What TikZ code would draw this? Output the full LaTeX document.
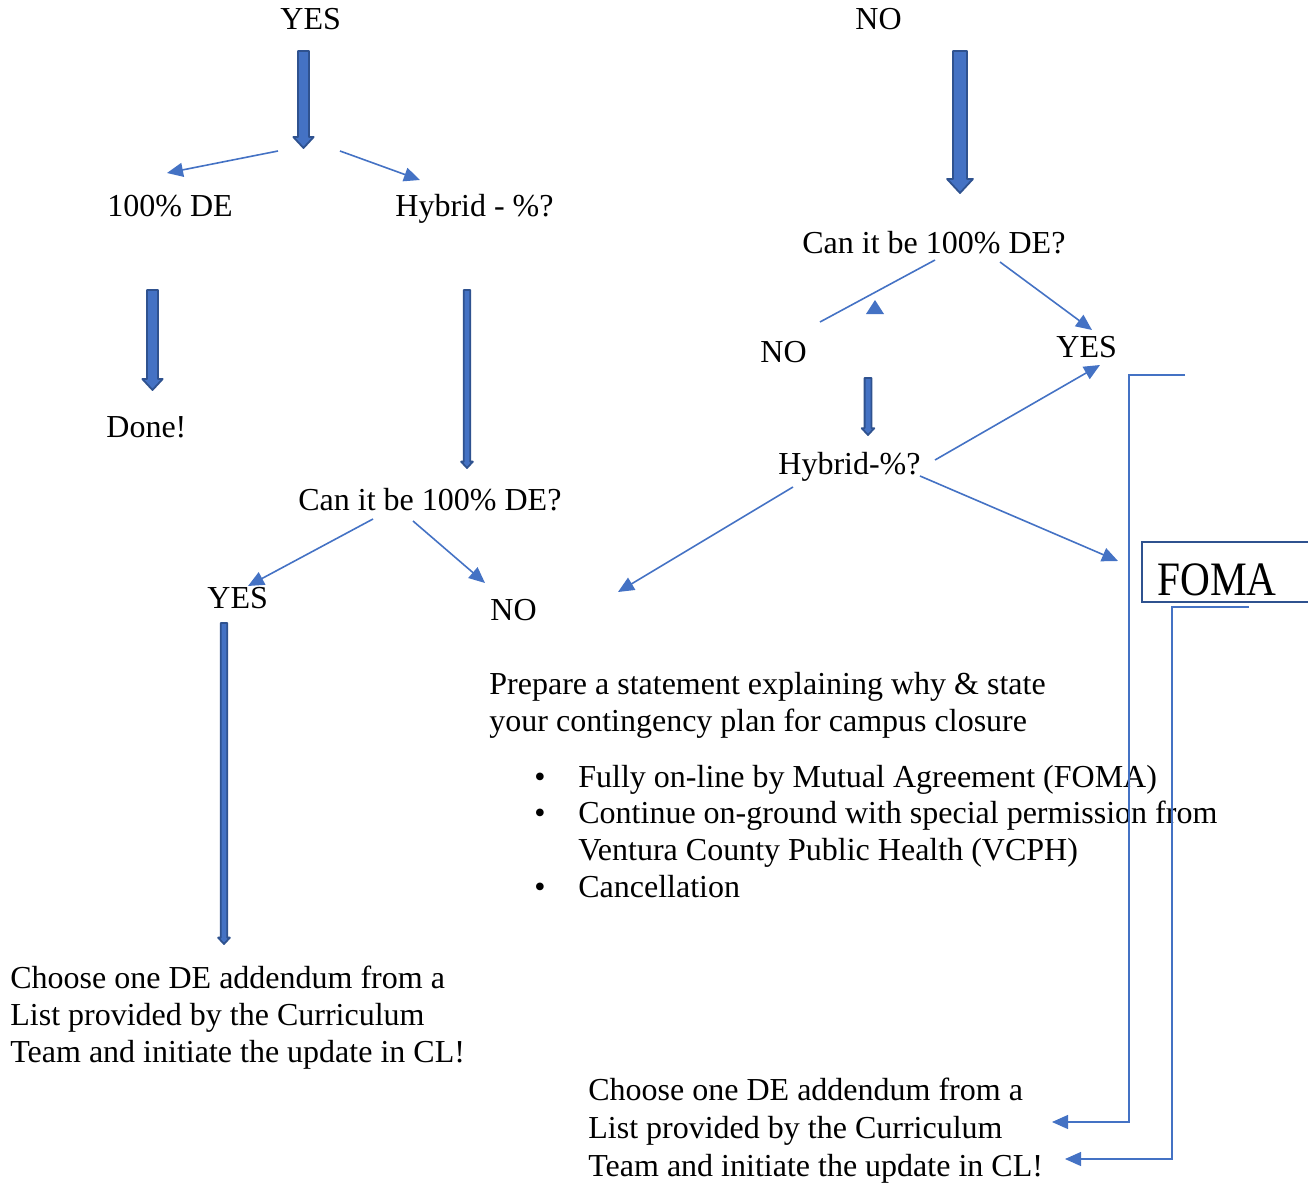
\documentclass[tikz,border=0pt]{standalone}
\usepackage{fontspec}
\setmainfont{Liberation Serif}
\usetikzlibrary{arrows.meta}
\definecolor{shapeblue}{HTML}{4472C4}
\definecolor{shapeedge}{HTML}{2F528F}
% x, top, tip, half width of the shaft
\newcommand{\blockarrow}[4]{%
  \filldraw[fill=shapeblue, draw=shapeedge, line width=0.9pt, line join=round]
    (#1-#4, #2) -- (#1+#4, #2) -- (#1+#4, #3-2*#4) -- (#1+1.85*#4, #3-2*#4)
    -- (#1, #3) -- (#1-1.85*#4, #3-2*#4) -- (#1-#4, #3-2*#4) -- cycle;}
\tikzset{
  txt/.style={anchor=base west, inner sep=0pt, font=\fontsize{16}{18.5}\selectfont},
  link/.style={draw=shapeblue, line width=0.8pt, -{Triangle[length=8pt, width=7pt]}},
  elbow/.style={draw=shapeblue, line width=0.6pt, -{Triangle[length=8pt, width=7pt]}}
}
\begin{document}
\begin{tikzpicture}[x=0.5pt, y=-0.5pt]
        \useasboundingbox (0, 0) rectangle (1308, 1183);
        % text
        \node[txt] (yesTop) at (280, 30) {YES};
        \node[txt] (noTop) at (855, 30) {NO};
        \node[txt] (deL) at (107, 216) {100\% DE};
        \node[txt] (hybL) at (395, 216) {Hybrid - \%?};
        \node[txt] (done) at (106, 437) {Done!};
        \node[txt] (canL) at (298, 510) {Can it be 100\% DE?};
        \node[txt] (yesL) at (207, 608) {YES};
        \node[txt] (noL) at (490, 620) {NO};
        \node[txt] (canR) at (802, 253) {Can it be 100\% DE?};
        \node[txt] (noR) at (760, 362) {NO};
        \node[txt] (yesR) at (1056, 357) {YES};
        \node[txt] (hybR) at (778, 474) {Hybrid-\%?};
        \node[txt, font=\fontsize{24}{28}\selectfont] (foma) at (1157, 595) {\scalebox{0.86}[1]{FOMA}};
        \node[txt] (prep) at (489, 694) {\begin{tabular}[t]{@{}l@{}}Prepare a statement explaining why \& state\\your contingency plan for campus closure\end{tabular}};
        \node[txt, font=\fontsize{16}{18.35}\selectfont] (opts) at (534, 787) {\begin{tabular}[t]{@{}p{22pt}@{}l@{}}
          \textbullet & Fully on-line by Mutual Agreement (FOMA)\\
          \textbullet & Continue on-ground with special permission from\\
          & Ventura County Public Health (VCPH)\\
          \textbullet & Cancellation\end{tabular}};
        \node[txt] (chooseL) at (10, 988) {\begin{tabular}[t]{@{}l@{}}Choose one DE addendum from a\\List provided by the Curriculum\\Team and initiate the update in CL!\end{tabular}};
        \node[txt, font=\fontsize{16}{19}\selectfont] (chooseR) at (588, 1100) {\begin{tabular}[t]{@{}l@{}}Choose one DE addendum from a\\List provided by the Curriculum\\Team and initiate the update in CL!\end{tabular}};
        % box
        \draw[shapeedge, line width=1.1pt] (1142, 542) rectangle (1340, 602);
        % block arrows
        \blockarrow{303.5}{51}{148}{5.5}
        \blockarrow{960}{51}{193}{7}
        \blockarrow{152.5}{290}{390}{5.5}
        \blockarrow{467}{290}{468}{3.2}
        \blockarrow{868}{378}{435}{3.4}
        \blockarrow{224}{623}{944}{3.2}
        % points
        \coordinate (a1) at (278, 151); \coordinate (a2) at (167, 173);
        \coordinate (b1) at (340, 151); \coordinate (b2) at (420, 180);
        \coordinate (c1) at (373, 519); \coordinate (c2) at (248, 586);
        \coordinate (d1) at (413, 521); \coordinate (d2) at (485, 583);
        \coordinate (e1) at (935, 260); \coordinate (e2) at (820, 322);
        \coordinate (f1) at (1000, 262); \coordinate (f2) at (1092, 330);
        \coordinate (g1) at (935, 460); \coordinate (g2) at (1100, 365);
        \coordinate (h1) at (920, 476); \coordinate (h2) at (1118, 561);
        \coordinate (k1) at (793, 487); \coordinate (k2) at (618, 592);
        \coordinate (m1) at (1185, 375); \coordinate (m2) at (1052, 1122);
        \coordinate (n1) at (1249, 607); \coordinate (n2) at (1065, 1159);
        % lines
        \draw[link] (a1) -- (a2);
        \draw[link] (b1) -- (b2);
        \draw[link] (c1) -- (c2);
        \draw[link] (d1) -- (d2);
        \draw[shapeblue, line width=0.8pt] (e1) -- (e2);
        \fill[shapeblue] (866, 314) -- (884, 314) -- (875, 300) -- cycle;
        \draw[link] (f1) -- (f2);
        \draw[link] (g1) -- (g2);
        \draw[link] (h1) -- (h2);
        \draw[link] (k1) -- (k2);
        \draw[elbow] (m1) -- (1129, 375) -- (1129, 1122) -- (m2);
        \draw[elbow] (n1) -- (1172, 607) -- (1172, 1159) -- (n2);
\end{tikzpicture}
\end{document}
